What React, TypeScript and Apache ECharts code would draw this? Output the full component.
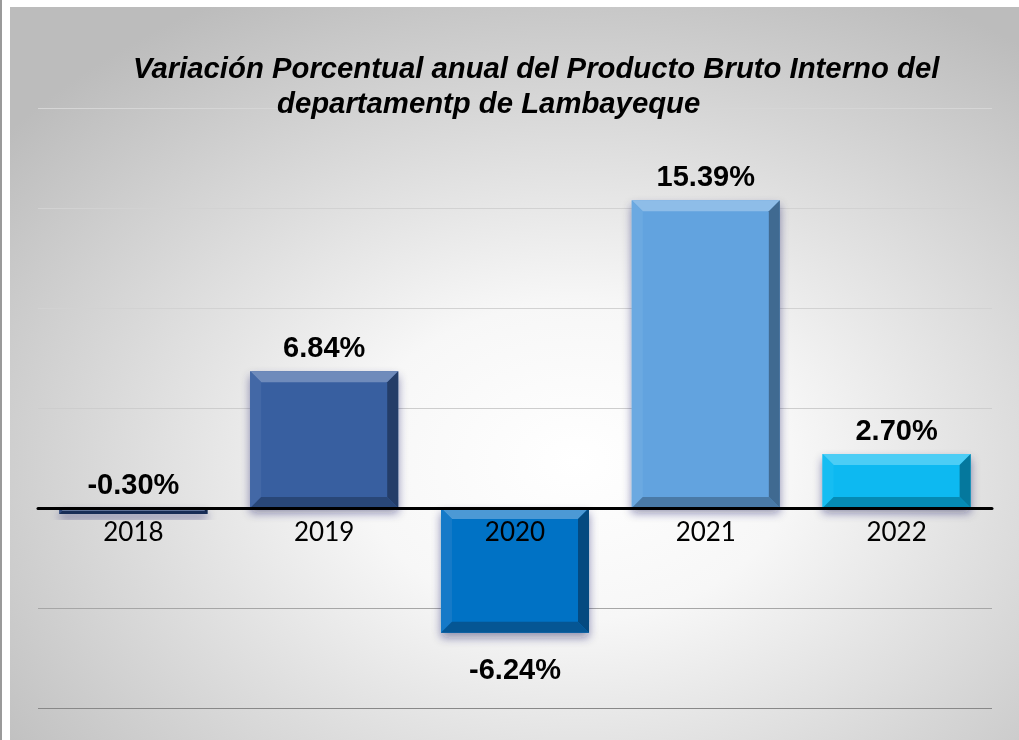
import React, { useEffect, useRef } from "react";
import * as echarts from "echarts";

const years = ["2018", "2019", "2020", "2021", "2022"];
const variation = [-0.3, 6.84, -6.24, 15.39, 2.7];
const barColors = ["#1F3A72", "#375EA0", "#0672C5", "#62A3DF", "#07B9F1"];
const titleLine1 = "Variación Porcentual anual del Producto Bruto Interno del";
const titleLine2 = "departamentp de Lambayeque";

function shade(hex: string, amt: number): string {
  const n = parseInt(hex.slice(1), 16);
  let r = (n >> 16) & 255, g = (n >> 8) & 255, b = n & 255;
  if (amt >= 0) {
    r = Math.round(r + (255 - r) * amt);
    g = Math.round(g + (255 - g) * amt);
    b = Math.round(b + (255 - b) * amt);
  } else {
    r = Math.round(r * (1 + amt));
    g = Math.round(g * (1 + amt));
    b = Math.round(b * (1 + amt));
  }
  return `rgb(${r},${g},${b})`;
}

export default function App() {
  const ref = useRef<HTMLDivElement>(null);
  useEffect(() => {
    if (!ref.current) return;
    const chart = echarts.init(ref.current, null, { renderer: "svg" });
    const data = variation.map((v, i) => [i, v]);
    const titleFont = "italic bold 29.3px 'Liberation Sans', Arial, sans-serif";
    chart.setOption({
      animation: false,
      graphic: [
        { type: "rect", z: -20, silent: true, shape: { x: 0, y: 0, width: 1019, height: 740 }, style: { fill: "#ffffff" } },
        { type: "rect", z: -19, silent: true, shape: { x: 0, y: 0, width: 2, height: 740 }, style: { fill: "#9a9a9a" } },
        {
          type: "rect", z: -18, silent: true,
          shape: { x: 10, y: 7, width: 1009, height: 733 },
          style: {
            fill: new echarts.graphic.RadialGradient(0.56, 0.62, 0.72, [
              { offset: 0, color: "#ffffff" },
              { offset: 0.3, color: "#f7f7f7" },
              { offset: 1, color: "#bcbcbc" },
            ]),
          },
        },
        {
          type: "text", z: 20, x: 133, y: 82,
          style: { text: titleLine1, font: titleFont, fill: "#000", textAlign: "left", textVerticalAlign: "bottom" },
        },
        {
          type: "text", z: 20, x: 277, y: 117,
          style: { text: titleLine2, font: titleFont, fill: "#000", textAlign: "left", textVerticalAlign: "bottom" },
        },
      ],
      grid: { left: 38, top: 108, width: 954, height: 600, containLabel: false },
      xAxis: {
        type: "category",
        data: years,
        z: 10,
        axisLine: { onZero: true, lineStyle: { color: "#000", width: 3 } },
        axisTick: { show: false },
        axisLabel: { show: false },
        splitLine: { show: false },
      },
      yAxis: {
        type: "value",
        min: -10,
        max: 20,
        interval: 5,
        axisLabel: { show: false },
        axisLine: { show: false },
        axisTick: { show: false },
        splitLine: {
          show: true,
          lineStyle: { color: ["#888888", "#a6a6a6", "#c0c0c0", "#cdcdcd", "#d2d2d2", "#d2d2d2", "#d6d6d6"], width: 1 },
        },
      },
      series: [
        {
          type: "custom",
          z: 5,
          data,
          renderItem: (params: any, api: any) => {
            const idx = api.value(0);
            const v = api.value(1);
            const p0 = api.coord([idx, 0]);
            const p1 = api.coord([idx, v]);
            const bw = api.size([1, 0])[0] * 0.776;
            const l = p0[0] - bw / 2;
            const r = l + bw;
            const t = Math.min(p0[1], p1[1]);
            const b = Math.max(p0[1], p1[1]);
            const h = b - t;
            const bv = Math.min(11, h / 2);
            const c = barColors[idx];
            const txt = v.toFixed(2) + "%";
            const below = v < -1;
            const labelFont = "bold 29px 'Liberation Sans', Arial, sans-serif";
            return {
              type: "group",
              children: [
                {
                  type: "rect",
                  shape: { x: l, y: t, width: bw, height: h },
                  style: { fill: c, shadowBlur: 10, shadowColor: "rgba(20,30,90,0.45)", shadowOffsetY: 5, shadowOffsetX: 0 },
                },
                {
                  type: "polygon",
                  shape: { points: [[l, t], [r, t], [r - bv, t + bv], [l + bv, t + bv]] },
                  style: { fill: shade(c, 0.28) },
                },
                {
                  type: "polygon",
                  shape: { points: [[l, t], [l + bv, t + bv], [l + bv, b - bv], [l, b]] },
                  style: { fill: shade(c, 0.06) },
                },
                {
                  type: "polygon",
                  shape: { points: [[r, t], [r, b], [r - bv, b - bv], [r - bv, t + bv]] },
                  style: { fill: shade(c, -0.35) },
                },
                {
                  type: "polygon",
                  shape: { points: [[l, b], [l + bv, b - bv], [r - bv, b - bv], [r, b]] },
                  style: { fill: shade(c, -0.25) },
                },
                {
                  type: "text",
                  z2: 20,
                  style: {
                    text: txt,
                    x: p0[0],
                    y: below ? b + 22 : t - 10,
                    textAlign: "center",
                    textVerticalAlign: below ? "top" : "bottom",
                    font: labelFont,
                    fill: "#000",
                  },
                },
                {
                  type: "text",
                  z2: 30,
                  style: {
                    text: years[idx],
                    x: p0[0],
                    y: p0[1] + 23,
                    textAlign: "center",
                    textVerticalAlign: "middle",
                    font: "26px Lato, 'Open Sans', sans-serif",
                    fill: "#000",
                  },
                },
              ],
            };
          },
        },
      ],
    });
    return () => chart.dispose();
  }, []);
  return <div ref={ref} style={{ position: "fixed", left: 0, top: 0, width: 1019, height: 740 }} />;
}
